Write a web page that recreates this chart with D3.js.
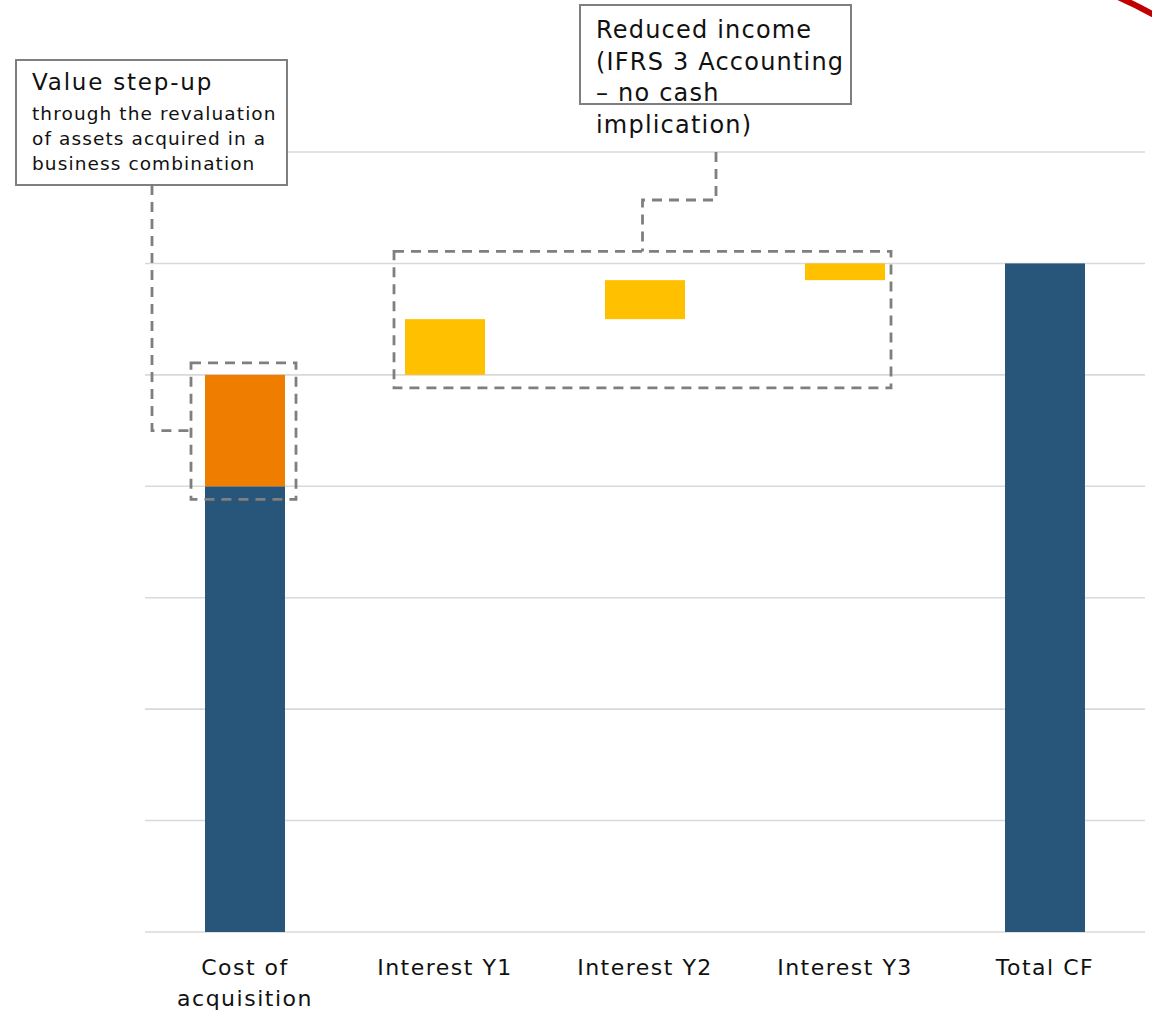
<!DOCTYPE html>
<html>
<head>
<meta charset="utf-8">
<script src="https://cdn.jsdelivr.net/npm/d3@7"></script>
<style>
  html, body { margin: 0; padding: 0; background: #fff; }
  svg { display: block; font-family: "DejaVu Sans", sans-serif; }
</style>
</head>
<body>
<svg id="chart" width="1152" height="1010"></svg>
<script>
// Waterfall: cost of acquisition, step-up, reduced income per year, total cash flow
const categories = ["Cost of acquisition", "Interest Y1", "Interest Y2", "Interest Y3", "Total CF"];
const categoryLines = [["Cost of", "acquisition"], ["Interest Y1"], ["Interest Y2"], ["Interest Y3"], ["Total CF"]];
const baseValues = [4, 0, 0, 0, 6];          // dark blue bars (from zero)
const stepUpValues = [1, 0, 0, 0, 0];        // orange step-up stacked on the base
const incomeValues = [0, 0.5, 0.35, 0.15, 0]; // floating yellow increments
const yTicks = [0, 1, 2, 3, 4, 5, 6, 7];

const leftNote = { title: "Value step-up", lines: ["through the revaluation", "of assets acquired in a", "business combination"] };
const rightNote = ["Reduced income", "(IFRS 3 Accounting", "– no cash", "implication)"];

const colors = { base: "#28557a", stepUp: "#ef7d00", income: "#ffc000", grid: "#d9d9d9", note: "#7f7f7f", accent: "#c00000" };

const svg = d3.select("#chart");

const x = d3.scaleBand().domain(categories).range([145, 1145]).paddingInner(0.6).paddingOuter(0.3);
const y = d3.scaleLinear().domain([0, 7]).range([932, 152]);

// horizontal gridlines
svg.append("g").selectAll("line").data(yTicks).join("line")
  .attr("x1", 145).attr("x2", 1145)
  .attr("y1", d => y(d)).attr("y2", d => y(d))
  .attr("stroke", colors.grid).attr("stroke-width", 1.6);

// build waterfall segments
let running = 0;
const segments = [];
categories.forEach((c, i) => {
  if (baseValues[i] > 0) {
    segments.push({ cat: c, y0: 0, y1: baseValues[i], color: colors.base });
    running = baseValues[i];
  }
  if (stepUpValues[i] > 0) {
    segments.push({ cat: c, y0: running, y1: running + stepUpValues[i], color: colors.stepUp });
    running += stepUpValues[i];
  }
  if (incomeValues[i] > 0) {
    segments.push({ cat: c, y0: running, y1: running + incomeValues[i], color: colors.income });
    running += incomeValues[i];
  }
});

svg.append("g").selectAll("rect").data(segments).join("rect")
  .attr("x", d => x(d.cat))
  .attr("width", x.bandwidth())
  .attr("y", d => y(d.y1))
  .attr("height", d => y(d.y0) - y(d.y1))
  .attr("fill", d => d.color);

// category labels
const labels = svg.append("g")
  .attr("font-size", 22).attr("letter-spacing", 1.5).attr("fill", "#111").attr("text-anchor", "middle");
categories.forEach((c, i) => {
  categoryLines[i].forEach((ln, j) => {
    labels.append("text")
      .attr("x", x(c) + x.bandwidth() / 2)
      .attr("y", 975 + j * 31)
      .text(ln);
  });
});

// dashed highlight boxes
const dash = { stroke: colors.note, "stroke-width": 2.8, "stroke-dasharray": "10,7", fill: "none" };
function applyDash(sel) { Object.entries(dash).forEach(([k, v]) => sel.attr(k, v)); return sel; }

const c0 = categories[0];
const lb = { x0: x(c0) - 14, x1: x(c0) + x.bandwidth() + 11, y0: y(5) - 12, y1: y(4) + 13 };
applyDash(svg.append("rect"))
  .attr("x", lb.x0).attr("y", lb.y0).attr("width", lb.x1 - lb.x0).attr("height", lb.y1 - lb.y0);

const rb = { x0: x(categories[1]) - 11, x1: x(categories[3]) + x.bandwidth() + 6, y0: y(6) - 12, y1: y(5) + 13 };
applyDash(svg.append("rect"))
  .attr("x", rb.x0).attr("y", rb.y0).attr("width", rb.x1 - rb.x0).attr("height", rb.y1 - rb.y0);

// connectors from the notes to the highlight boxes
const midStep = y(baseValues[0] + stepUpValues[0] / 2);
applyDash(svg.append("path"))
  .attr("d", `M152,185 V${midStep} H${lb.x0}`);
const rbMid = (rb.x0 + rb.x1) / 2;
applyDash(svg.append("path"))
  .attr("d", `M716,${y(7)} V200 H${rbMid} V${rb.y0}`);

// left note
svg.append("rect").attr("x", 16).attr("y", 60).attr("width", 271).attr("height", 125)
  .attr("fill", "#fff").attr("stroke", colors.note).attr("stroke-width", 2);
svg.append("text").attr("x", 32).attr("y", 90)
  .attr("font-size", 23).attr("letter-spacing", 1.8).attr("fill", "#111").text(leftNote.title);
leftNote.lines.forEach((ln, i) => {
  svg.append("text").attr("x", 32).attr("y", 120 + i * 25)
    .attr("font-size", 18.5).attr("letter-spacing", 1.1).attr("fill", "#111").text(ln);
});

// right note (text runs past its frame)
svg.append("rect").attr("x", 580).attr("y", 5).attr("width", 271).attr("height", 99)
  .attr("fill", "#fff").attr("stroke", colors.note).attr("stroke-width", 2);
rightNote.forEach((ln, i) => {
  svg.append("text").attr("x", 596).attr("y", 38 + i * 31.5)
    .attr("font-size", 24).attr("letter-spacing", 1.2).attr("fill", "#111").text(ln);
});

// red accent stroke in the top-right corner
svg.append("path")
  .attr("d", "M1118,-3 Q1136,5 1156,16")
  .attr("fill", "none").attr("stroke", colors.accent).attr("stroke-width", 6);
</script>
</body>
</html>
